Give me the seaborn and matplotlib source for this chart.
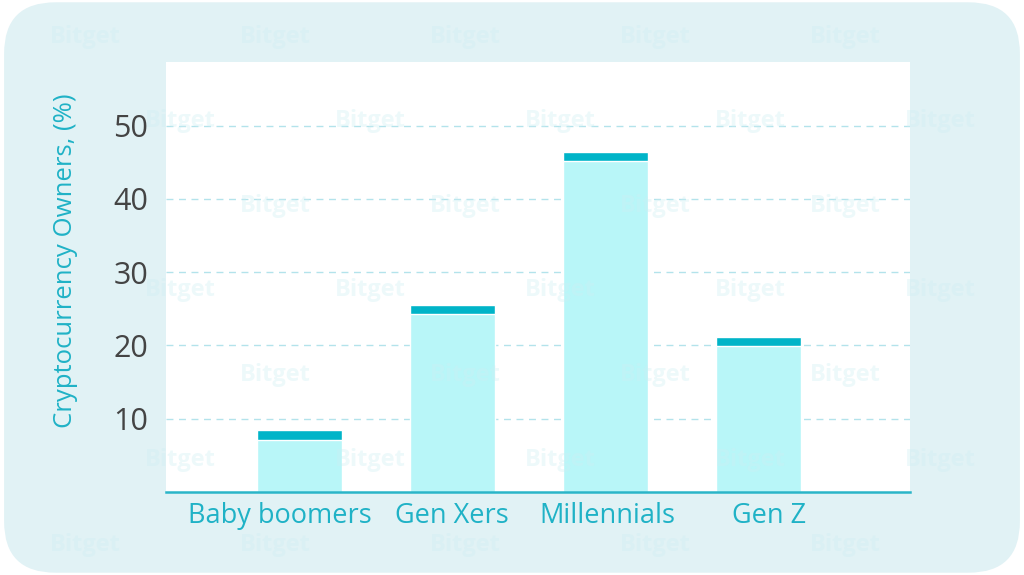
import matplotlib
matplotlib.use("Agg")
import matplotlib.pyplot as plt
import matplotlib.transforms as mtransforms
from matplotlib.patches import FancyBboxPatch
import seaborn as sns
import pandas as pd

# values
generations = ["Baby boomers", "Gen Xers", "Millennials", "Gen Z"]
owners_pct = [8.4, 25.5, 46.4, 21.2]
y_ticks = [10, 20, 30, 40, 50]
# horizontal nudges of the category labels in the reference (px)
label_shift_px = [-19, 0, 2, 11]

df = pd.DataFrame({"generation": generations, "owners": owners_pct})

sns.set_theme(style="white")
plt.rcParams["font.family"] = ["Open Sans", "DejaVu Sans"]

fig = plt.figure(figsize=(10.24, 5.75), dpi=100, facecolor="white")

# rounded light panel behind everything
panel = FancyBboxPatch((0.004, 0.004), 0.992, 0.992,
                       boxstyle="round,pad=0,rounding_size=0.05",
                       transform=fig.transFigure, facecolor="#e1f2f5",
                       edgecolor="none", zorder=-5, mutation_aspect=1024 / 575)
fig.patches.append(panel)

# faint watermark grid (only the ones that fit and stay clear of the labels)
for r, yy in enumerate([37, 121, 206, 290, 375, 460, 545]):
    off = 0 if r % 2 == 0 else 95
    for xx in range(85 + off, 1000, 190):
        if xx < 150 and 100 < yy < 500:
            continue
        fig.text(xx / 1024, 1 - yy / 575, "Bitget", fontsize=17, fontweight="bold",
                 color="#cdeef3", alpha=0.35, ha="center", va="center", zorder=10)

ax = fig.add_axes([166 / 1024, 83 / 575, 744 / 1024, 430 / 575])
ax.set_facecolor("white")

sns.barplot(data=df, x="generation", y="owners", color="#b8f6f8",
            width=0.556, saturation=1, ax=ax, zorder=2)

# darker cap on top of each bar
cap_h = 1.25
for patch, val in zip(list(ax.patches), owners_pct):
    ax.bar(patch.get_x() + patch.get_width() / 2, cap_h, bottom=val - cap_h,
           width=patch.get_width(), color="#00b4c8", zorder=3)

ax.set_xlim(-0.87, 3.99)
ax.set_ylim(0, 58.7)
ax.set_yticks(y_ticks)
ax.yaxis.grid(True, linestyle=(0, (5, 4)), color="#b3e3eb", linewidth=1)
ax.set_axisbelow(True)

for side in ["top", "right", "left"]:
    ax.spines[side].set_visible(False)
ax.spines["bottom"].set_color("#2ab5c8")
ax.spines["bottom"].set_linewidth(1.8)

ax.tick_params(axis="y", length=0, pad=13, labelsize=22, labelcolor="#444444")
ax.tick_params(axis="x", length=0, pad=7, labelsize=19.5, labelcolor="#1fb2c6")
for lbl, dx in zip(ax.get_xticklabels(), label_shift_px):
    lbl.set_transform(lbl.get_transform() +
                      mtransforms.ScaledTranslation(dx / 100, 0, fig.dpi_scale_trans))
ax.set_xlabel("")
ax.set_ylabel("Cryptocurrency Owners, (%)", fontsize=18.5, color="#1fb2c6")
ax.yaxis.set_label_coords(-0.118, 0.537)

fig.savefig("out.png", dpi=100, facecolor="white")
